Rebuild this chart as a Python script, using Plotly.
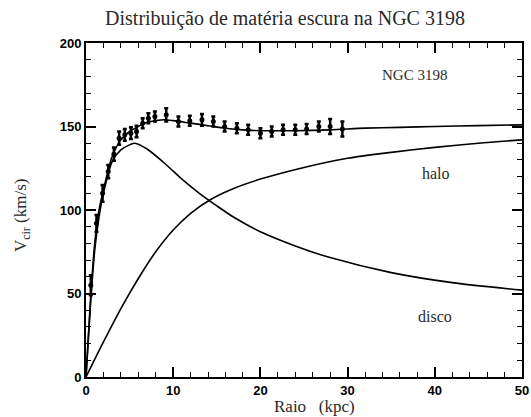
import plotly.graph_objects as go

# Observed rotation curve (NGC 3198)
obs_r = [0.55, 1.2, 1.9, 2.55, 3.2, 3.8, 4.45, 5.15, 5.8, 6.5, 7.15, 7.9,
         9.2, 10.6, 11.9, 13.3, 14.6, 15.9, 17.3, 18.6, 20.0, 21.3, 22.6,
         24.0, 25.3, 26.7, 28.0, 29.4]
obs_v = [55, 92, 110, 123, 133.5, 143, 145, 146, 147, 152, 155, 156,
         157, 153, 153.5, 154, 153, 150, 149, 148, 146, 147, 148,
         148, 148.5, 150, 150, 148.5]
obs_err = [6, 5, 5, 4, 4, 4, 3.5, 3.5, 3.5, 3, 3, 3,
           4, 3, 3, 3.5, 3, 3, 3, 3, 3, 3, 3,
           3, 3, 3, 4.5, 4.5]

# Model fit: total
tot_r = [0, 0.5, 1, 1.5, 2, 3, 4, 5, 6, 7, 8, 9, 10, 12, 14, 16, 18, 20,
         24, 28, 32, 36, 40, 45, 50]
tot_v = [0, 45, 80, 100, 112, 132, 142, 147, 150, 152.5, 153.5, 154, 153.5,
         152, 150.5, 149, 148, 147.5, 147.5, 148, 149, 149.5, 150, 150.5, 151]

# Disk component
disk_r = [0, 0.5, 1, 1.5, 2, 3, 4, 5, 5.6, 7, 9, 11, 13, 15, 17, 20, 24,
          28, 35, 42, 50]
disk_v = [0, 42, 76, 96, 110, 129, 136, 139, 140, 136.5, 128, 118.5, 110,
          102.5, 95.5, 87, 78.5, 71.5, 62.5, 56.5, 52]

# Halo component
halo_r = [0, 2, 4, 6, 8, 10, 12, 14.2, 17, 20, 25, 30, 35, 40, 45, 50]
halo_v = [0, 21, 41, 59, 75, 88, 98, 106, 113, 118.5, 125.5, 131, 134.5,
          137.5, 140, 142]

title_text = "Distribuição de matéria escura na NGC 3198"
x_title = "Raio   (kpc)"
y_title = "V<sub>cir</sub> (km/s)"

serif = "Liberation Serif, Times New Roman, serif"
text_color = "#2a2a2a"
line_style = dict(color="black", width=1.6)

fig = go.Figure()
for xr, yv in [(tot_r, tot_v), (disk_r, disk_v), (halo_r, halo_v)]:
    fig.add_trace(go.Scatter(x=xr, y=yv, mode="lines",
                             line=dict(line_style, shape="spline", smoothing=0.8),
                             showlegend=False, hoverinfo="skip"))
fig.add_trace(go.Scatter(x=obs_r, y=obs_v, mode="markers",
                         marker=dict(color="black", size=5, symbol="circle"),
                         error_y=dict(type="data", array=obs_err, color="black",
                                      thickness=2.5, width=2),
                         showlegend=False))

fig.add_annotation(x=37.7, y=181, text="NGC 3198", showarrow=False,
                   font=dict(family=serif, size=15, color=text_color))
fig.add_annotation(x=40.1, y=122, text="halo", showarrow=False,
                   font=dict(family=serif, size=16, color=text_color))
fig.add_annotation(x=40.0, y=36, text="disco", showarrow=False,
                   font=dict(family=serif, size=16, color=text_color))
fig.add_annotation(xref="paper", yref="paper", x=(314 - 86) / 436, y=-(406 - 377) / 334,
                   text=x_title, showarrow=False, xanchor="center", yanchor="middle",
                   font=dict(family=serif, size=17, color=text_color))
fig.add_annotation(xref="paper", yref="paper", x=(22 - 86) / 436, y=(377 - 216) / 334,
                   text=y_title, showarrow=False, xanchor="center", yanchor="middle",
                   textangle=-90, font=dict(family=serif, size=17, color=text_color))

axis_common = dict(
    showline=True, linecolor="black", linewidth=2, mirror="ticks",
    ticks="inside", ticklen=10, tickwidth=1.5, tickcolor="black",
    showgrid=False, zeroline=False, automargin=False,
    tickfont=dict(family="Liberation Sans, Arial, sans-serif", size=13,
                  color="black", weight="bold"),
)

fig.update_xaxes(axis_common, range=[0, 50], dtick=10, tick0=0,
                 minor=dict(dtick=2, ticks="inside", ticklen=5, tickcolor="black", tickwidth=1.2))
fig.update_yaxes(axis_common, range=[0, 200], dtick=50, tick0=0,
                 minor=dict(dtick=10, ticks="inside", ticklen=5, tickcolor="black", tickwidth=1.2))

fig.update_layout(
    width=531, height=417,
    margin=dict(l=86, r=9, t=43, b=40, autoexpand=False),
    paper_bgcolor="white", plot_bgcolor="white",
    title=dict(text=title_text, x=285 / 531, xanchor="center", y=1 - 18 / 417, yanchor="middle",
               font=dict(family=serif, size=20, color=text_color)),
)

fig.write_html("out.html", config={"displayModeBar": False},
               post_script="document.body.style.margin='0';document.body.style.overflow='hidden';")
